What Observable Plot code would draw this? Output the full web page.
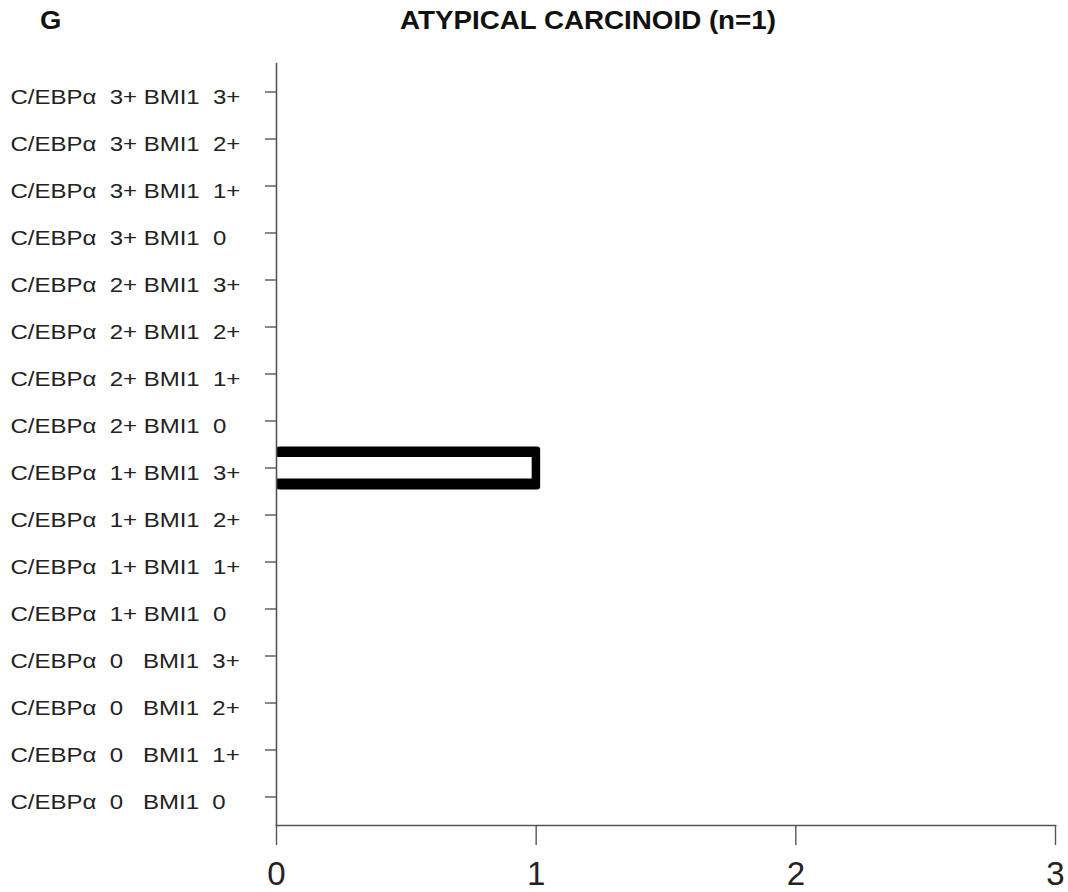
<!DOCTYPE html>
<html><head><meta charset="utf-8">
<script src="https://cdn.jsdelivr.net/npm/d3@7"></script>
<script src="https://cdn.jsdelivr.net/npm/@observablehq/plot@0.6"></script>
<style>
body{margin:0;background:#fff;font-family:"Liberation Sans",Arial,sans-serif;}
#wrap{position:relative;width:1068px;height:892px;}
#panel{position:absolute;left:40px;top:6px;font-weight:bold;font-size:25px;color:#111;transform:scaleX(1.1);transform-origin:left center;}
#title{position:absolute;left:0;width:1176px;text-align:center;top:6px;font-weight:bold;font-size:25px;color:#111;transform:scaleX(1.11);transform-origin:588px center;}
#chart{position:absolute;left:0;top:0;}
svg text{white-space:pre;}
</style></head><body>
<div id="wrap"><div id="chart"></div><div id="panel">G</div><div id="title">ATYPICAL CARCINOID (n=1)</div></div>
<script>
// categories, top to bottom
const labels = [
  "C/EBPα  3+ BMI1  3+",
  "C/EBPα  3+ BMI1  2+",
  "C/EBPα  3+ BMI1  1+",
  "C/EBPα  3+ BMI1  0",
  "C/EBPα  2+ BMI1  3+",
  "C/EBPα  2+ BMI1  2+",
  "C/EBPα  2+ BMI1  1+",
  "C/EBPα  2+ BMI1  0",
  "C/EBPα  1+ BMI1  3+",
  "C/EBPα  1+ BMI1  2+",
  "C/EBPα  1+ BMI1  1+",
  "C/EBPα  1+ BMI1  0",
  "C/EBPα  0   BMI1  3+",
  "C/EBPα  0   BMI1  2+",
  "C/EBPα  0   BMI1  1+",
  "C/EBPα  0   BMI1  0"
];
const counts = [0,0,0,0, 0,0,0,0, 1,0,0,0, 0,0,0,0];
const xTicks = [0, 1, 2, 3];

const data = labels.map((label, i) => ({label, count: counts[i]}));
const nonzero = d => d.count > 0;

const chart = Plot.plot({
  width: 1068,
  height: 892,
  marginTop: 63,
  marginBottom: 67,
  marginLeft: 276,
  marginRight: 13,
  style: {fontFamily: "'Liberation Sans', Arial, sans-serif", background: "#fff", color: "#222"},
  x: {domain: [0, 3], ticks: xTicks, label: null},
  y: {domain: labels, padding: 0, label: null},
  marks: [
    // thick black outline (drawn as outer black bar + inner white bar, open at the axis side)
    Plot.barX(data, {filter: nonzero, x: "count", y: "label", fill: "#000", insetTop: 2.5, insetBottom: 1.5, insetRight: -4.5, rx: 3}),
    Plot.barX(data, {filter: nonzero, x: "count", y: "label", fill: "#fff", insetTop: 13, insetBottom: 12.5, insetRight: 4}),
    Plot.frame({anchor: "bottom", stroke: "#555", strokeWidth: 1.6}),
    Plot.frame({anchor: "left", stroke: "#555", strokeWidth: 1.6}),
    Plot.axisX({ticks: xTicks, tickSize: 20, tickPadding: 16, fontSize: 33, stroke: "#555", strokeWidth: 1.4, label: null, tickFormat: d => String(d)}),
    Plot.axisY({tickSize: 11, stroke: "#555", strokeWidth: 1.4, tickFormat: () => "", label: null}),
    Plot.text(labels, {y: d => d, text: d => d, frameAnchor: "left", textAnchor: "start", dx: -266, dy: 6, fontSize: 20, fill: "#222", className: "ylab"})
  ]
});
// widen the row labels horizontally to match the reference typeface proportions
d3.select(chart).selectAll("g.ylab text, .ylab text").each(function() {
  const t = this.getAttribute("transform");
  if (t && !/scale/.test(t)) this.setAttribute("transform", t + " scale(1.2,1)");
});
document.getElementById("chart").appendChild(chart);
</script>
</body></html>
